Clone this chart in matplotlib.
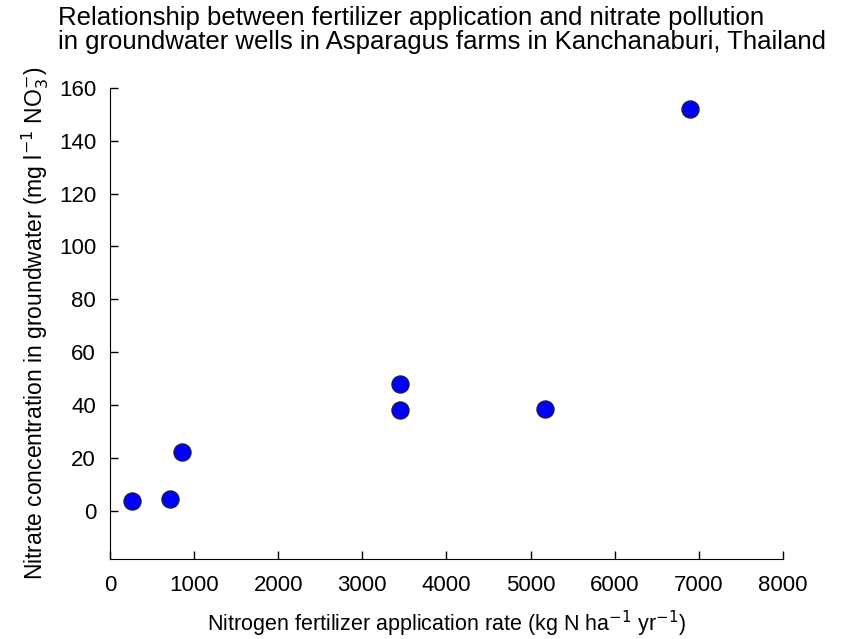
import matplotlib
matplotlib.use("Agg")
import matplotlib.pyplot as plt

# fertilizer rate (kg N/ha/yr) vs nitrate in groundwater (mg/l NO3-)
n_rate = [265, 717, 856, 3444, 3444, 5172, 6893]
nitrate = [3.7, 4.5, 22.3, 48.0, 38.1, 38.6, 152.2]

x_ticks = [0, 1000, 2000, 3000, 4000, 5000, 6000, 7000, 8000]
y_ticks = [0, 20, 40, 60, 80, 100, 120, 140, 160]

plt.rcParams["font.family"] = ["Liberation Sans", "DejaVu Sans"]

fig = plt.figure(figsize=(8.44, 6.39), dpi=100)
ax = fig.add_axes([0.1303, 0.1257, 0.7974, 0.7366])

ax.scatter(n_rate, nitrate, s=150, color="#0000ff", edgecolor="#1a1a4a",
           linewidth=1, zorder=3)

ax.set_xlim(0, 8000)
ax.set_ylim(-18.2, 160)
ax.set_xticks(x_ticks)
ax.set_yticks(y_ticks)
ax.tick_params(direction="in", length=6, width=1, labelsize=16)
ax.tick_params(axis="x", pad=12)
ax.tick_params(axis="y", pad=10)
ax.spines["top"].set_visible(False)
ax.spines["right"].set_visible(False)

ax.set_xlabel("Nitrogen fertilizer application rate (kg N ha$^{-1}$ yr$^{-1}$)",
              fontsize=15.5, labelpad=9)
ax.set_ylabel("Nitrate concentration in groundwater (mg l$^{-1}$ NO$_3^{-}$)",
              fontsize=16.5, labelpad=6)

fig.text(58 / 844, 1 - 6 / 639,
         "Relationship between fertilizer application and nitrate pollution\n"
         "in groundwater wells in Asparagus farms in Kanchanaburi, Thailand",
         ha="left", va="top", fontsize=18.5, linespacing=1.02)

fig.savefig("out.png", dpi=100)
